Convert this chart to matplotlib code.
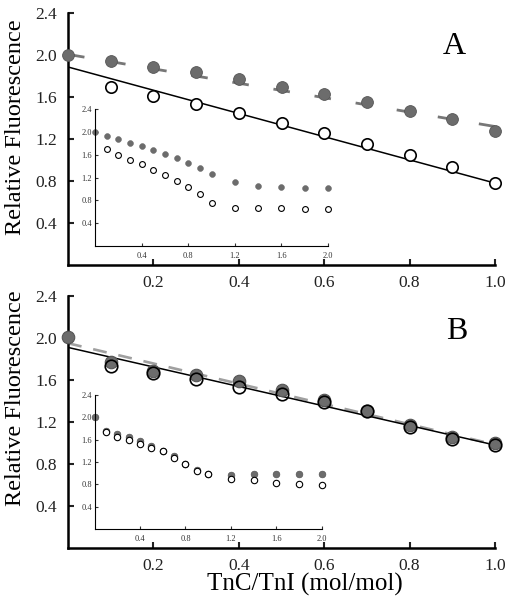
import numpy as np
import matplotlib
matplotlib.use("Agg")
import matplotlib.pyplot as plt

plt.rcParams['font.family'] = ['Liberation Serif', 'DejaVu Serif']
plt.rcParams['lines.scale_dashes'] = False

# ---------------- data ----------------
x_main = [0.0, 0.1, 0.2, 0.3, 0.4, 0.5, 0.6, 0.7, 0.8, 0.9, 1.0]
a_filled = [2.00, 1.94, 1.89, 1.84, 1.77, 1.70, 1.63, 1.55, 1.47, 1.39, 1.28]
a_open = [2.00, 1.70, 1.61, 1.53, 1.45, 1.35, 1.26, 1.15, 1.05, 0.93, 0.78]
b_filled = [2.01, 1.77, 1.69, 1.65, 1.59, 1.50, 1.41, 1.30, 1.17, 1.06, 1.00]
b_open = [2.00, 1.73, 1.67, 1.61, 1.53, 1.47, 1.39, 1.30, 1.15, 1.04, 0.98]

# linear fits (intercept, slope)
a_fit_open = (1.886, -1.106)
a_fit_filled = (2.006, -0.687)
b_fit_open = (1.91, -0.93)
b_fit_filled = (1.95, -0.965)

x_inset = [0.0, 0.1, 0.2, 0.3, 0.4, 0.5, 0.6, 0.7, 0.8, 0.9, 1.0, 1.2, 1.4, 1.6, 1.8, 2.0]
ia_filled = [1.99, 1.93, 1.88, 1.81, 1.76, 1.68, 1.62, 1.54, 1.46, 1.37, 1.27, 1.12, 1.06, 1.03, 1.02, 1.01]
ia_open = [1.99, 1.70, 1.60, 1.51, 1.43, 1.33, 1.24, 1.14, 1.03, 0.91, 0.76, 0.67, 0.66, 0.66, 0.65, 0.65]
ib_filled = [2.01, 1.76, 1.70, 1.64, 1.57, 1.49, 1.40, 1.30, 1.16, 1.06, 0.99, 0.97, 0.98, 0.99, 0.99, 0.99]
ib_open = [2.01, 1.73, 1.65, 1.59, 1.52, 1.46, 1.39, 1.28, 1.16, 1.04, 0.98, 0.90, 0.88, 0.82, 0.80, 0.78]

main_yticks = [0.4, 0.8, 1.2, 1.6, 2.0, 2.4]
main_xticks = [0.2, 0.4, 0.6, 0.8, 1.0]
inset_yticks = [0.4, 0.8, 1.2, 1.6, 2.0, 2.4]
inset_xticks = [0.4, 0.8, 1.2, 1.6, 2.0]

panel_labels = ['A', 'B']
ylabel = 'Relative Fluorescence'
xlabel = 'TnC/TnI (mol/mol)'

GRAY = '#6c6c6c'
GRAY_EDGE = '#555555'

fig = plt.figure(figsize=(5.11, 6.0), dpi=100)

def style_main(ax):
    for s in ['top', 'right']:
        ax.spines[s].set_visible(False)
    for s in ['left', 'bottom']:
        ax.spines[s].set_linewidth(1.8)
    ax.set_xlim(0, 1.0)
    ax.set_ylim(0, 2.4)
    ax.set_xticks(main_xticks)
    ax.set_yticks(main_yticks)
    ax.set_xticklabels([f'{v:.1f}' for v in main_xticks])
    ax.set_yticklabels([f'{v:.1f}' for v in main_yticks])
    ax.tick_params(direction='in', length=4, width=1.5, labelsize=12.5, colors='#222222')
    ax.tick_params(axis='y', pad=8)
    ax.tick_params(axis='x', pad=7)
    ax.patch.set_visible(False)

def style_inset(ax):
    for s in ['top', 'right']:
        ax.spines[s].set_visible(False)
    for s in ['left', 'bottom']:
        ax.spines[s].set_linewidth(0.8)
    ax.set_xlim(0, 2.0)
    ax.set_ylim(0, 2.4)
    ax.set_xticks(inset_xticks)
    ax.set_yticks(inset_yticks)
    ax.set_xticklabels([f'{v:.1f}' for v in inset_xticks])
    ax.set_yticklabels([f'{v:.1f}' for v in inset_yticks])
    ax.tick_params(direction='in', length=2, width=0.8, labelsize=6, colors='#333333')
    ax.tick_params(axis='y', pad=2)
    ax.tick_params(axis='x', pad=4)
    ax.patch.set_visible(False)

xs = np.array(x_main)
xl = np.array([0.0, 1.0])

# ---------------- Panel A ----------------
axA = fig.add_axes([0.1331, 0.5583, 0.8356, 0.42])
style_main(axA)
axA.plot(xl, a_fit_filled[0] + a_fit_filled[1] * xl, color='#777777', lw=2.0,
         dashes=(12, 18), zorder=2, solid_capstyle='butt')
axA.plot(xl, a_fit_open[0] + a_fit_open[1] * xl, color='black', lw=1.1, zorder=2)
axA.plot(xs[1:], np.array(a_open)[1:], 'o', ms=8.2, mfc='white', mec='black', mew=1.2,
         zorder=3, clip_on=False)
axA.plot(xs, a_filled, 'o', ms=8.5, mfc=GRAY, mec=GRAY_EDGE, mew=0.6, zorder=4, clip_on=False)
axA.text(0.905, 2.08, panel_labels[0], fontsize=23, ha='center', va='center')
axA.set_ylabel(ylabel, fontsize=17.5)
axA.yaxis.set_label_coords(-0.098, 0.545)

iaA = fig.add_axes([0.1859, 0.59, 0.456, 0.2283])
style_inset(iaA)
iaA.plot(x_inset[1:], ia_open[1:], 'o', ms=4.2, mfc='white', mec='black', mew=0.8, clip_on=False)
iaA.plot(x_inset, ia_filled, 'o', ms=4.2, mfc=GRAY, mec=GRAY, mew=0.4, clip_on=False)

# ---------------- Panel B ----------------
axB = fig.add_axes([0.1331, 0.0867, 0.8356, 0.42])
style_main(axB)
axB.plot(xl, b_fit_filled[0] + b_fit_filled[1] * xl, color='#a0a0a0', lw=1.9,
         dashes=(10, 8.6), zorder=2)
axB.plot(xl, b_fit_open[0] + b_fit_open[1] * xl, color='black', lw=1.1, zorder=2)
axB.plot(xs, b_filled, 'o', ms=9, mfc=GRAY, mec=GRAY_EDGE, mew=0.8, zorder=3, clip_on=False)
axB.plot(xs[1:], np.array(b_open)[1:], 'o', ms=9, mfc='none', mec='black', mew=1.2,
         zorder=4, clip_on=False)
axB.text(0.91, 2.06, panel_labels[1], fontsize=23, ha='center', va='center')
axB.set_ylabel(ylabel, fontsize=17.5)
axB.yaxis.set_label_coords(-0.098, 0.595)
axB.set_xlabel(xlabel, fontsize=18)
axB.xaxis.set_label_coords(0.555, -0.097)

iaB = fig.add_axes([0.185, 0.1183, 0.445, 0.2233])
style_inset(iaB)
iaB.plot(x_inset, ib_filled, 'o', ms=4.8, mfc=GRAY, mec=GRAY_EDGE, mew=0.5, clip_on=False)
iaB.plot(x_inset[1:], ib_open[1:], 'o', ms=4.6, mfc='white', mec='black', mew=0.8, clip_on=False)

fig.savefig('out.png', dpi=100)
